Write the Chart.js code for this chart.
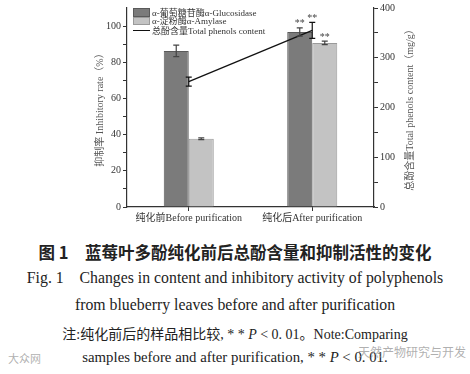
<!DOCTYPE html>
<html>
<head>
<meta charset="utf-8">
<script src="https://cdn.jsdelivr.net/npm/chart.js@4"></script>
<style>
  html, body { margin:0; padding:0; background:#fff; }
  #wrap { position:relative; width:470px; height:374px; overflow:hidden; }
  #chart { position:absolute; left:0; top:0; }
  #legend { position:absolute; left:133px; top:8px; font-family:"Liberation Serif","Noto Sans CJK SC",serif; font-size:9px; color:#333; }
  #legend .row { display:flex; align-items:center; height:8.5px; white-space:nowrap; }
  #legend .row.l { height:10px; }
  #legend .sw { width:17px; height:8.5px; box-sizing:border-box; margin-right:2px; }
  #legend .ln { width:17px; height:0; border-top:1.3px solid #111; margin-right:2px; }
  .cap { position:absolute; left:0; width:470px; text-align:center; white-space:nowrap; color:#222; }
  .t1 { top:240px; font-family:"Noto Sans CJK SC",sans-serif; font-weight:bold; font-size:16.5px; }
  .t2 { top:269px; font-family:"Liberation Serif",serif; font-size:15.8px; }
  .t3 { top:296px; font-family:"Liberation Serif",serif; font-size:15.8px; }
  .t4 { top:323px; font-family:"Liberation Serif","Noto Sans CJK SC",serif; font-size:14px; }
  .t5 { top:349px; font-family:"Liberation Serif","Noto Sans CJK SC",serif; font-size:14.8px; }
  .wm { position:absolute; font-family:"Noto Sans CJK SC",sans-serif; color:rgba(150,150,150,0.75); }
</style>
</head>
<body>
<div id="wrap">
  <canvas id="chart" width="470" height="232"></canvas>
  <div id="legend"></div>
  <div class="cap t1">图 1　蓝莓叶多酚纯化前后总酚含量和抑制活性的变化</div>
  <div class="cap t2">Fig. 1&nbsp;&nbsp;&nbsp; Changes in content and inhibitory activity of polyphenols</div>
  <div class="cap t3">from blueberry leaves before and after purification</div>
  <div class="cap t4">注:纯化前后的样品相比较, * * <i>P</i> &lt; 0. 01。Note:Comparing</div>
  <div class="cap t5">samples before and after purification, * * <i>P</i> &lt; 0. 01.</div>
  <div class="wm" style="left:8px;top:350px;font-size:11px;">大众网</div>
  <div class="wm" style="left:358px;top:343px;font-size:12px;">天然产物研究与开发</div>
</div>
<script>
// 資料
const categories = ['纯化前Before purification', '纯化后After purification'];
const seriesLabels = ['α-葡萄糖苷酶α-Glucosidase', 'α-淀粉酶α-Amylase', '总酚含量Total phenols content'];
const glucosidase = [86.3, 96.7];
const glucosidaseErr = [3.2, 2.3];
const amylase = [37.7, 90.7];
const amylaseErr = [0.5, 1.0];
const phenols = [252, 355];
const phenolsErr = [9, 16];
const stars = ['', '**'];
const leftTicks = [0, 20, 40, 60, 80, 100];
const rightTicks = [0, 100, 200, 300, 400];
const rightTitle = '总酚含量Total phenols content（mg/g）';

const FONT = '"Liberation Serif", "Noto Sans CJK SC", serif';
const AXIS = '#333';

// 誤差線 + 顯著性星號
const errorBarPlugin = {
  id: 'errorBars',
  afterDatasetsDraw(chart){
    const ctx = chart.ctx;
    chart.data.datasets.forEach((ds, di)=>{
      if(!ds.errors) return;
      const meta = chart.getDatasetMeta(di);
      const scale = chart.scales[ds.yAxisID];
      meta.data.forEach((el, i)=>{
        const v = ds.data[i], e = ds.errors[i];
        const x = el.x;
        const yt = scale.getPixelForValue(v + e);
        const yb = scale.getPixelForValue(v - e);
        ctx.save();
        ctx.strokeStyle = ds.errColor;
        ctx.lineWidth = 1.2;
        ctx.beginPath();
        ctx.moveTo(x, yt); ctx.lineTo(x, yb);
        ctx.moveTo(x-3, yt); ctx.lineTo(x+3, yt);
        ctx.moveTo(x-3, yb); ctx.lineTo(x+3, yb);
        ctx.stroke();
        if(ds.stars && ds.stars[i]){
          ctx.fillStyle = '#444';
          ctx.font = '10px ' + FONT;
          ctx.textAlign = 'center';
          ctx.textBaseline = 'alphabetic';
          ctx.fillText(ds.stars[i], x, yt - 1.5);
        }
        ctx.restore();
      });
    });
  }
};

// 右軸標題（由下往上讀）
const rightTitlePlugin = {
  id: 'rightTitle',
  afterDraw(chart){
    const s = chart.scales.y1;
    const ctx = chart.ctx;
    ctx.save();
    ctx.translate(s.right - 10, (chart.chartArea.top + chart.chartArea.bottom) / 2);
    ctx.rotate(-Math.PI/2);
    ctx.font = '10px ' + FONT;
    ctx.fillStyle = '#555';
    ctx.textAlign = 'center';
    ctx.textBaseline = 'middle';
    ctx.fillText(rightTitle, 0, 0);
    ctx.restore();
  }
};

const ctx = document.getElementById('chart').getContext('2d');
const chart = new Chart(ctx, {
  data: {
    labels: categories,
    datasets: [
      { type:'bar', label: seriesLabels[0], data: glucosidase, errors: glucosidaseErr, stars: stars, errColor:'#444',
        yAxisID:'y', backgroundColor:'#7b7b7b', borderColor:'#5a5a5a', borderWidth:1, order:1,
        categoryPercentage:0.405, barPercentage:1 },
      { type:'bar', label: seriesLabels[1], data: amylase, errors: amylaseErr, stars: stars, errColor:'#444',
        yAxisID:'y', backgroundColor:'#c3c3c3', borderColor:'#9a9a9a', borderWidth:1, order:1,
        categoryPercentage:0.405, barPercentage:1 },
      { type:'line', label: seriesLabels[2], data: phenols, errors: phenolsErr, stars: stars, errColor:'#111',
        yAxisID:'y1', borderColor:'#111', borderWidth:1.3, pointRadius:0, fill:false, order:0 }
    ]
  },
  options: {
    responsive:false,
    animation:false,
    devicePixelRatio:1,
    layout:{ padding:{ left:90, right:50, top:6, bottom:6 } },
    plugins:{ legend:{ display:false }, tooltip:{ enabled:false } },
    scales:{
      x:{
        type:'category', offset:true,
        grid:{ display:true, drawOnChartArea:false, offset:false, tickLength:4, color:AXIS },
        border:{ display:true, color:AXIS, width:1.2 },
        ticks:{ font:{ family:FONT, size:10 }, color:'#333', padding:1, maxRotation:0 },
        afterFit(s){ s.height = 19; }
      },
      y:{
        position:'left', min:0, max:110,
        grid:{ drawOnChartArea:false, tickLength:4,
          tickColor: c => (c.tick && c.tick.value > 100) ? 'rgba(0,0,0,0)' : AXIS },
        border:{ display:true, color:AXIS, width:1.2 },
        ticks:{ stepSize:10, font:{ family:FONT, size:10 }, color:'#333', padding:2,
          callback: v => leftTicks.includes(v) ? v : '' },
        title:{ display:true, text:'抑制率 Inhibitory rate（%）', color:'#555', font:{ family:FONT, size:10 } },
        afterFit(s){ s.width = 37; }
      },
      y1:{
        position:'right', min:0, max:400,
        grid:{ drawOnChartArea:false, tickLength:4, color:AXIS },
        border:{ display:true, color:AXIS, width:1.2 },
        ticks:{ stepSize:50, font:{ family:FONT, size:10 }, color:'#333', padding:2,
          callback: v => rightTicks.includes(v) ? v : '' },
        afterFit(s){ s.width = 46; }
      }
    }
  },
  plugins:[errorBarPlugin, rightTitlePlugin]
});

// 圖例（HTML，放在繪圖區內左上）
const legendEl = document.getElementById('legend');
chart.data.datasets.forEach(ds=>{
  const row = document.createElement('div');
  row.className = 'row';
  const mark = document.createElement('div');
  if(ds.type === 'bar'){
    mark.className = 'sw';
    mark.style.background = ds.backgroundColor;
    mark.style.border = '1px solid ' + ds.borderColor;
  } else {
    mark.className = 'ln';
    row.classList.add('l');
  }
  const txt = document.createElement('span');
  txt.textContent = ds.label;
  row.appendChild(mark); row.appendChild(txt);
  legendEl.appendChild(row);
});
</script>
</body>
</html>
